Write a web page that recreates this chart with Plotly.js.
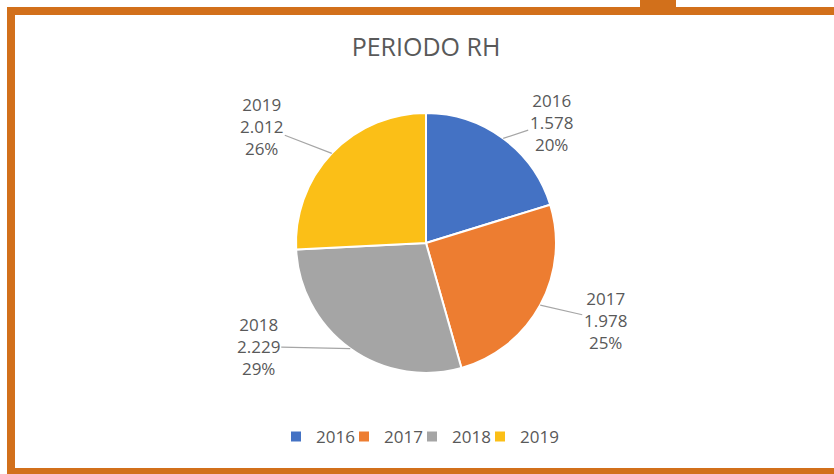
<!DOCTYPE html>
<html>
<head>
<meta charset="utf-8">
<script src="https://cdn.plot.ly/plotly-3.0.1.min.js"></script>
<style>html,body{margin:0;padding:0;background:#fff;}#chart{width:834px;height:474px;}
#chart .legend .scrollbox{clip-path:none !important;}</style>
</head>
<body>
<div id="chart"></div>
<script>
// ---- data ----
const years = ['2016', '2017', '2018', '2019'];
const values = [1578, 1978, 2229, 2012];
const colors = ['#4472C4', '#ED7D31', '#A5A5A5', '#FBBF17'];
const chartTitle = 'PERIODO RH';

// ---- layout constants (pixels) ----
const W = 834, H = 474;
const CX = 426, CY = 243, R = 130;
const labelOffsets = [[48, -16], [65, 15], [-92, -2], [-70, -27]];
const px = x => x / W;
const py = y => 1 - y / H;
const TXT = '#595959';
const FONT = 'Open Sans, sans-serif';
const ORANGE = '#D2701B';

const total = values.reduce((a, b) => a + b, 0);
const fmt = v => String(v).replace(/\B(?=(\d{3})+(?!\d))/g, '.');

const annotations = [];
let cum = 0;
values.forEach((v, i) => {
  const mid = (cum + v / 2) / total;
  cum += v;
  const th = mid * 2 * Math.PI;
  const ex = CX + R * Math.sin(th);
  const ey = CY - R * Math.cos(th);
  annotations.push({
    x: px(ex), y: py(ey), xref: 'paper', yref: 'paper',
    text: years[i] + '<br>' + fmt(v) + '<br>' + Math.round(v / total * 100) + '%',
    showarrow: true, arrowhead: 0, arrowwidth: 1.2, arrowcolor: '#A6A6A6',
    ax: labelOffsets[i][0], ay: labelOffsets[i][1], standoff: 0,
    align: 'center', font: {family: FONT, size: 17, color: TXT}
  });
});

const rect = (x0, y0, x1, y1) => ({
  type: 'rect', xref: 'paper', yref: 'paper',
  x0: px(x0), x1: px(x1), y0: py(y1), y1: py(y0),
  fillcolor: ORANGE, line: {width: 0}, layer: 'above'
});

const shapes = [
  rect(7, 7, W, 15),      // top band
  rect(640, 0, 676, 8),   // tab
  rect(7, 7, 15, H),      // left band
  rect(7, 468, W, H)      // bottom band
];

const trace = {
  type: 'pie',
  labels: years,
  values: values,
  sort: false,
  direction: 'clockwise',
  rotation: 0,
  marker: {colors: colors, line: {color: '#FFFFFF', width: 2}},
  textinfo: 'none',
  hoverinfo: 'none',
  domain: {x: [px(CX - R), px(CX + R)], y: [py(CY + R), py(CY - R)]}
};

const layout = {
  width: W, height: H,
  margin: {l: 0, r: 0, t: 0, b: 0},
  paper_bgcolor: '#FFFFFF',
  font: {family: FONT, color: TXT},
  title: {text: chartTitle, x: px(426), xanchor: 'center', y: py(47), yanchor: 'middle',
          xref: 'paper', yref: 'paper', font: {family: FONT, size: 25, color: TXT}},
  showlegend: true,
  legend: {orientation: 'h', x: px(276), xanchor: 'left', y: py(437), yanchor: 'middle',
           entrywidth: 23, font: {family: FONT, size: 17, color: TXT}, bgcolor: 'rgba(0,0,0,0)'},
  annotations: annotations,
  shapes: shapes
};

Plotly.newPlot('chart', [trace], layout, {staticPlot: true, displayModeBar: false});
</script>
</body>
</html>
